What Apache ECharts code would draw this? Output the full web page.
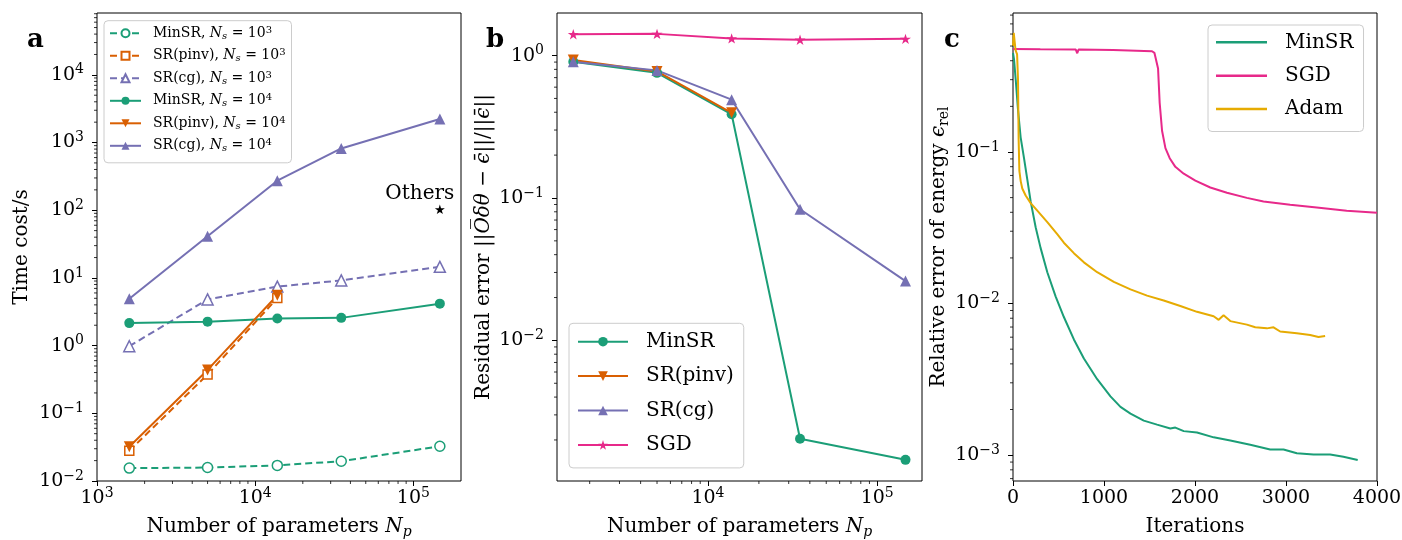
<!DOCTYPE html>
<html><head><meta charset="utf-8">
<script src="https://cdn.jsdelivr.net/npm/echarts@6/dist/echarts.min.js"></script>
<style>html,body{margin:0;padding:0;background:#fff}#c{width:1402px;height:540px}</style>
</head><body><div id="c"></div>
<script>
// ---------------- data ----------------
// panel a / b: number of parameters
const np = [1600, 5000, 13800, 35000, 147000];
const npPinv = [1600, 5000, 13800];
// panel a: time cost (s)
const timeMinSR3 = [0.0155, 0.0158, 0.0170, 0.0196, 0.0326];
const timePinv3 = [0.0279, 0.375, 5.04];
const timeCg3 = [0.98, 4.81, 7.44, 9.2, 14.6];
const timeMinSR4 = [2.15, 2.26, 2.51, 2.57, 4.17];
const timePinv4 = [0.032, 0.4375, 5.54];
const timeCg4 = [4.92, 41.2, 273, 818, 2233];
const othersX = [147000];
const othersY = [103];
// panel b: residual error
const resMinSR = [0.904, 0.756, 0.387, 0.00204, 0.00145];
const resPinv = [0.93, 0.774, 0.396];
const resCg = [0.904, 0.787, 0.49, 0.0834, 0.0261];
const resSGD = [1.41, 1.42, 1.32, 1.29, 1.31];
// panel c: relative energy error vs iterations
const itMinSR = [0, 11, 29, 55, 84, 121, 157, 194, 249, 303, 377, 468, 559, 669, 779, 925, 1071, 1181, 1291, 1437, 1583, 1729, 1784, 1876, 2022, 2205, 2388, 2607, 2826, 2973, 3119, 3302, 3485, 3631, 3788];
const errMinSR = [0.45, 0.41, 0.304, 0.19, 0.125, 0.091, 0.066, 0.0472, 0.0319, 0.0233, 0.0161, 0.01116, 0.00815, 0.0058, 0.00434, 0.00317, 0.00244, 0.00208, 0.00188, 0.00169, 0.00159, 0.0015, 0.00152, 0.00144, 0.00141, 0.00131, 0.00125, 0.00117, 0.00109, 0.00109, 0.00103, 0.00101, 0.00101, 0.000975, 0.00093];
const itSGD = [0, 300, 690, 706, 720, 1100, 1528, 1554, 1594, 1612, 1638, 1675, 1722, 1784, 1876, 2004, 2168, 2351, 2570, 2753, 3046, 3338, 3667, 4000];
const errSGD = [0.478, 0.476, 0.474, 0.448, 0.474, 0.471, 0.462, 0.451, 0.356, 0.21, 0.138, 0.106, 0.091, 0.0798, 0.0719, 0.0647, 0.0583, 0.0539, 0.0498, 0.0472, 0.0448, 0.043, 0.041, 0.0397];
const itAdam = [0, 8, 20, 28, 45, 55, 62, 70, 85, 102, 139, 194, 267, 377, 486, 559, 669, 779, 925, 1108, 1291, 1473, 1656, 1839, 2022, 2205, 2260, 2314, 2388, 2570, 2662, 2790, 2863, 2936, 3119, 3265, 3357, 3430];
const errAdam = [0.5, 0.61, 0.60, 0.47, 0.44, 0.30, 0.12, 0.075, 0.064, 0.0574, 0.0516, 0.046, 0.041, 0.0345, 0.0287, 0.0252, 0.0215, 0.0187, 0.0161, 0.0139, 0.0124, 0.01128, 0.01048, 0.00964, 0.00882, 0.00824, 0.00781, 0.00837, 0.00766, 0.00726, 0.00697, 0.00686, 0.00697, 0.00654, 0.00637, 0.00621, 0.00601, 0.0061];
// ticks
const majorAx = [1e3, 1e4, 1e5];
const majorAy = [1e-2, 1e-1, 1e0, 1e1, 1e2, 1e3, 1e4];
const majorBx = [1e4, 1e5];
const majorBy = [1e-2, 1e-1, 1e0];
const majorCy = [1e-3, 1e-2, 1e-1];
const minorMult = [2, 3, 4, 5, 6, 7, 8, 9];

// ---------------- helpers ----------------
const FF = "'DejaVu Serif', serif";
const G = '#1b9e77', O = '#d95f02', P = '#7570b3', K = '#e7298a', Y = '#e6ab02';
function zip(a, b) { return a.map((v, i) => [v, b[i]]); }
function minorTicks(decades, lo, hi) {
  const out = [];
  decades.forEach(d => minorMult.forEach(m => {
    const v = +(m * Math.pow(10, d)).toPrecision(6);
    if (v > lo && v < hi) out.push(v);
  }));
  return out;
}
function richSet(base, small, H, lower, raise) {
  const t = { fontFamily: FF, color: '#000' };
  return {
    r: Object.assign({}, t, { fontSize: base, lineHeight: H, verticalAlign: 'middle' }),
    i: Object.assign({}, t, { fontSize: base, lineHeight: H, verticalAlign: 'middle', fontStyle: 'italic' }),
    sb: Object.assign({}, t, { fontSize: small, lineHeight: H - 2 * lower, verticalAlign: 'bottom' }),
    sbi: Object.assign({}, t, { fontSize: small, lineHeight: H - 2 * lower, verticalAlign: 'bottom', fontStyle: 'italic' }),
    sp: Object.assign({}, t, { fontSize: small, lineHeight: H - 2 * raise, verticalAlign: 'top' })
  };
}
const tickRich = richSet(19, 14, 24, 4, 8);
const nameRich = richSet(20, 14, 24, 4, 8);
const legRichA = richSet(14, 10, 16, 3, 5);
function powLabel(v) {
  const e = Math.log10(v), n = Math.round(e);
  if (Math.abs(e - n) > 1e-6) return '';
  return '{r|10}{sp|' + (n < 0 ? '\u2212' + (-n) : n) + '}';
}
const tickStyle = { color: '#000', width: 1 };
function mainAxis(type, grid, min, max, majors, isX, name, nameGap, extra) {
  const ax = {
    type: type, gridIndex: grid, min: min, max: max,
    axisLine: { show: false }, splitLine: { show: false },
    axisTick: { show: true, length: 5, lineStyle: tickStyle },
    axisLabel: { color: '#000', margin: isX ? 5 : 13, rich: tickRich, fontFamily: FF, fontSize: 19 },
    name: name, nameLocation: 'middle', nameGap: nameGap,
    nameTextStyle: { rich: nameRich, color: '#000' }
  };
  if (majors) {
    ax.axisTick.customValues = majors;
    ax.axisLabel.customValues = majors;
    ax.axisLabel.formatter = powLabel;
  }
  return Object.assign(ax, extra || {});
}
// minor ticks drawn through the axes' own scales
function tickSeries(xi, yi, vals, isX, fixed, len) {
  return {
    type: 'custom', xAxisIndex: xi, yAxisIndex: yi, silent: true, clip: false, z: 10,
    data: vals.map(v => isX ? [v, fixed] : [fixed, v]),
    renderItem: (params, api) => {
      const p = api.coord([api.value(0), api.value(1)]);
      return {
        type: 'line',
        shape: isX ? { x1: p[0], y1: p[1], x2: p[0], y2: p[1] + len } : { x1: p[0] - len, y1: p[1], x2: p[0], y2: p[1] },
        style: { stroke: '#000', lineWidth: 0.8 }
      };
    },
    animation: false
  };
}
const starPath = 'path://M0,-1 L0.2245,-0.309 L0.951,-0.309 L0.363,0.118 L0.588,0.809 L0,0.382 L-0.588,0.809 L-0.363,0.118 L-0.951,-0.309 L-0.2245,-0.309 Z';

const A = { xmin: 1e3, xmax: 2e5, ymin: 1e-2, ymax: 8.2e4 };
const B = { xmin: 1282, xmax: 1.84e5, ymin: 1.03e-3, ymax: 1.99 };
const C = { xmin: 0, xmax: 4000, ymin: 6.75e-4, ymax: 0.826 };

const legendA = {
  'a:m3': '{r|MinSR, }{i|N}{sbi|s}{r| = 10}{sp|3}',
  'a:p3': '{r|SR(pinv), }{i|N}{sbi|s}{r| = 10}{sp|3}',
  'a:c3': '{r|SR(cg), }{i|N}{sbi|s}{r| = 10}{sp|3}',
  'a:m4': '{r|MinSR, }{i|N}{sbi|s}{r| = 10}{sp|4}',
  'a:p4': '{r|SR(pinv), }{i|N}{sbi|s}{r| = 10}{sp|4}',
  'a:c4': '{r|SR(cg), }{i|N}{sbi|s}{r| = 10}{sp|4}'
};

function lineSeries(name, xi, yi, data, color, symbol, size, dashed, open, rot) {
  return {
    name: name, type: 'line', xAxisIndex: xi, yAxisIndex: yi, data: data,
    symbol: symbol, symbolSize: size, symbolRotate: rot || 0, symbolKeepAspect: true,
    lineStyle: { color: color, width: 2, type: dashed ? [7, 4] : 'solid' },
    itemStyle: open ? { color: '#fff', borderColor: color, borderWidth: 1.5 } : { color: color },
    emphasis: { disabled: true }, animation: false
  };
}
function curve(name, it, err, color) {
  return {
    name: name, type: 'line', xAxisIndex: 2, yAxisIndex: 2, data: zip(it, err),
    showSymbol: false, symbol: 'none', lineStyle: { color: color, width: 2 }, itemStyle: { color: color },
    emphasis: { disabled: true }, animation: false
  };
}
function gridBox(left, width) {
  return { left: left, top: 13, width: width, height: 468, show: true, borderColor: '#000', borderWidth: 1,
    outerBoundsMode: 'none', containLabel: false };
}

const xName = '{r|Number of parameters }{i|N}{sbi|p}';
const option = {
  animation: false,
  backgroundColor: '#fff',
  grid: [gridBox(97, 364), gridBox(557, 365), gridBox(1013, 364)],
  xAxis: [
    mainAxis('log', 0, A.xmin, A.xmax, majorAx, true, xName, 34),
    mainAxis('log', 1, B.xmin, B.xmax, majorBx, true, xName, 34),
    mainAxis('value', 2, C.xmin, C.xmax, null, true, '{r|Iterations}', 34, {})
  ],
  yAxis: [
    mainAxis('log', 0, A.ymin, A.ymax, majorAy, false, '{r|Time cost/s}', 63),
    mainAxis('log', 1, B.ymin, B.ymax, majorBy, false, '{r|Residual error ||}{i|O\u0305\u03b4\u03b8}{r| \u2212 }{i|\u03f5\u0304}{r|||/||}{i|\u03f5\u0304}{r|||}', 61),
    mainAxis('log', 2, C.ymin, C.ymax, majorCy, false, '{r|Relative error of energy }{i|\u03f5}{sb|rel}', 59)
  ],
  legend: [
    {
      orient: 'vertical', left: 104, top: 20.7, padding: [4.6, 6, 9, 5],
      itemWidth: 31, itemHeight: 10, itemGap: 6.5, selectedMode: false,
      borderColor: '#ccc', borderWidth: 1, borderRadius: 4, backgroundColor: 'rgba(255,255,255,0.8)',
      data: Object.keys(legendA), formatter: n => legendA[n],
      textStyle: { rich: legRichA, padding: [0, 0, 0, 7], color: '#000' }
    },
    {
      orient: 'vertical', left: 569, top: 323.3, padding: [6.4, 10, 11, 8],
      itemWidth: 50, itemHeight: 12, itemGap: 10.4, selectedMode: false,
      borderColor: '#ccc', borderWidth: 1, borderRadius: 4, backgroundColor: 'rgba(255,255,255,0.8)',
      data: ['b:MinSR', 'b:SR(pinv)', 'b:SR(cg)', 'b:SGD'], formatter: n => n.slice(2),
      textStyle: { fontFamily: FF, fontSize: 20, lineHeight: 24, color: '#000', padding: [0, 0, 0, 13] }
    },
    {
      orient: 'vertical', left: 1208, top: 25, padding: [5.3, 10, 10.5, 8], icon: 'rect',
      itemWidth: 51, itemHeight: 2.5, itemGap: 9.35, selectedMode: false,
      borderColor: '#ccc', borderWidth: 1, borderRadius: 4, backgroundColor: 'rgba(255,255,255,0.8)',
      data: ['c:MinSR', 'c:SGD', 'c:Adam'], formatter: n => n.slice(2),
      textStyle: { fontFamily: FF, fontSize: 20, lineHeight: 24, color: '#000', padding: [0, 0, 0, 13] }
    }
  ],
  graphic: [
    { type: 'text', x: 27, y: 40, style: { text: 'a', fontFamily: FF, fontSize: 26, fontWeight: 'bold', fill: '#000', align: 'left', verticalAlign: 'middle' } },
    { type: 'text', x: 486, y: 40, style: { text: 'b', fontFamily: FF, fontSize: 26, fontWeight: 'bold', fill: '#000', align: 'left', verticalAlign: 'middle' } },
    { type: 'text', x: 944, y: 40, style: { text: 'c', fontFamily: FF, fontSize: 26, fontWeight: 'bold', fill: '#000', align: 'left', verticalAlign: 'middle' } }
  ],
  series: [
    lineSeries('a:m3', 0, 0, zip(np, timeMinSR3), G, 'circle', 10, true, true),
    lineSeries('a:p3', 0, 0, zip(npPinv, timePinv3), O, 'rect', 9, true, true),
    lineSeries('a:c3', 0, 0, zip(np, timeCg3), P, 'triangle', 11, true, true),
    lineSeries('a:m4', 0, 0, zip(np, timeMinSR4), G, 'circle', 10, false, false),
    lineSeries('a:p4', 0, 0, zip(npPinv, timePinv4), O, 'triangle', 11, false, false, 180),
    lineSeries('a:c4', 0, 0, zip(np, timeCg4), P, 'triangle', 11, false, false),
    {
      name: 'others', type: 'scatter', xAxisIndex: 0, yAxisIndex: 0, data: zip(othersX, othersY),
      symbol: starPath, symbolSize: 10, symbolKeepAspect: true, itemStyle: { color: '#000', opacity: 1 },
      label: { show: true, formatter: 'Others', position: 'top', distance: 1, offset: [-20, 0], fontFamily: FF, fontSize: 20, color: '#000', opacity: 1, textBorderWidth: 0 },
      emphasis: { disabled: true }, animation: false
    },
    lineSeries('b:MinSR', 1, 1, zip(np, resMinSR), G, 'circle', 10, false, false),
    lineSeries('b:SR(pinv)', 1, 1, zip(npPinv, resPinv), O, 'triangle', 11, false, false, 180),
    lineSeries('b:SR(cg)', 1, 1, zip(np, resCg), P, 'triangle', 11, false, false),
    lineSeries('b:SGD', 1, 1, zip(np, resSGD), K, starPath, 11, false, false),
    curve('c:MinSR', itMinSR, errMinSR, G),
    curve('c:SGD', itSGD, errSGD, K),
    curve('c:Adam', itAdam, errAdam, Y),
    tickSeries(0, 0, minorTicks([3, 4, 5], A.xmin, A.xmax), true, A.ymin, 3),
    tickSeries(0, 0, minorTicks([-2, -1, 0, 1, 2, 3, 4], A.ymin, A.ymax), false, A.xmin, 3),
    tickSeries(1, 1, minorTicks([3, 4, 5], B.xmin, B.xmax), true, B.ymin, 3),
    tickSeries(1, 1, minorTicks([-3, -2, -1, 0], B.ymin, B.ymax), false, B.xmin, 3),
    tickSeries(2, 2, minorTicks([-4, -3, -2, -1], C.ymin, C.ymax), false, C.xmin, 3)
  ]
};
option.xAxis[2].interval = 1000;
option.xAxis[2].axisLabel.formatter = v => '{r|' + v + '}';
const chart = echarts.init(document.getElementById('c'), null, { renderer: 'canvas' });
chart.setOption(option);
</script></body></html>
